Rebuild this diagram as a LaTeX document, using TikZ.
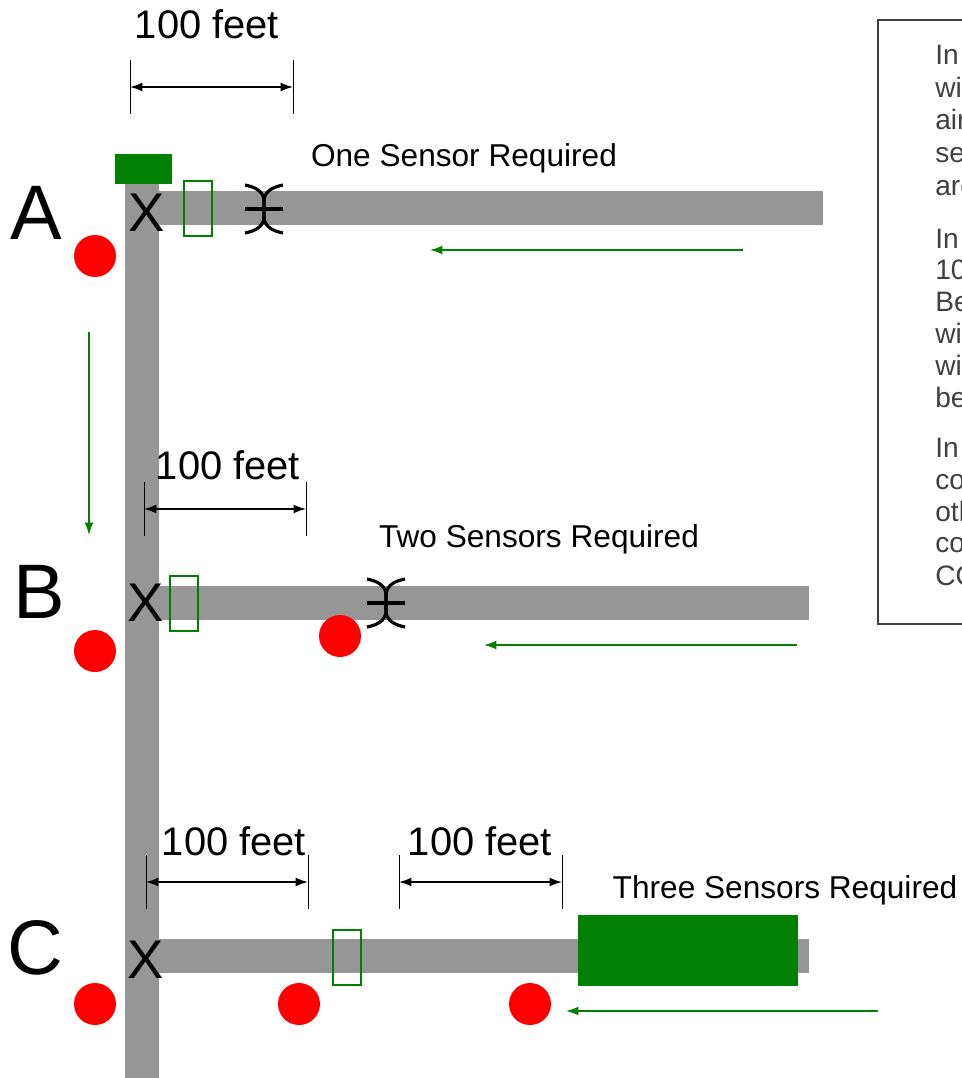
\documentclass[tikz,border=0pt]{standalone}
\usepackage{fontspec}
\setmainfont{Liberation Sans}
\usetikzlibrary{calc,arrows.meta}
\definecolor{pipegray}{HTML}{969696}
\definecolor{ductgreen}{HTML}{008000}
\tikzset{
    sensor/.style={circle,fill=red,inner sep=0pt,minimum size=0.84cm},
    distlabel/.style={inner sep=0pt,font=\fontsize{22.7}{26}\selectfont},
    reqlabel/.style={inner sep=0pt,font=\fontsize{18}{22}\selectfont},
    caselabel/.style={inner sep=0pt,font=\fontsize{44}{50}\selectfont},
    xmark/.style={inner sep=0pt,font=\fontsize{31}{35}\selectfont},
    notetext/.style={inner sep=0pt,anchor=base west,text=black!75,font=\fontsize{16}{19}\selectfont},
    dimline/.style={thick,{Latex[length=7pt,width=5pt]}-{Latex[length=7pt,width=5pt]}},
    flow/.style={draw=ductgreen,thick,-{Latex[length=7pt,width=5pt]}},
    openbox/.style={draw=ductgreen,thick},
    solidbox/.style={draw=ductgreen,fill=ductgreen}
}
\begin{document}
\begin{tikzpicture}[x=0.02cm,y=-0.02cm]
    \useasboundingbox (0,0) rectangle (962,1078);
    \clip (0,0) rectangle (962,1078); % the note box runs off the right edge
    \fill[white] (0,0) rectangle (962,1078);

    % Ducts
    \fill[pipegray] (125,180) rectangle (159,1078);
    \fill[pipegray] (159,191) rectangle (823,225);
    \fill[pipegray] (159,586) rectangle (809,620);
    \fill[pipegray] (159,939) rectangle (809,973);

    % Green boxes
    \draw[solidbox] (115.5,154.5) rectangle (171,183);
    \draw[solidbox] (578,915.5) rectangle (797,985);
    \draw[openbox] (184,181) rectangle (212,236);
    \draw[openbox] (170,576) rectangle (198,631);
    \draw[openbox] (333,930) rectangle (361,985);

    % Sensors
    \node[sensor] (sensorA) at (95,256) {};
    \node[sensor] (sensorBone) at (95,651) {};
    \node[sensor] (sensorBtwo) at (340,636) {};
    \node[sensor] (sensorCone) at (95,1004) {};
    \node[sensor] (sensorCtwo) at (299,1004) {};
    \node[sensor] (sensorCthree) at (530,1004) {};

    % Case letters and the X at each corner
    \node[caselabel] (caseA) at (36,213) {A};
    \node[caselabel] (caseB) at (39,592) {B};
    \node[caselabel] (caseC) at (35,948) {C};
    \node[xmark] (xA) at (147,213) {X};
    \node[xmark] (xB) at (146,603) {X};
    \node[xmark] (xC) at (146,960) {X};

    % Dampers
    \foreach \n/\x/\y in {damperA/264/209,damperB/386/603}{%
      \coordinate (\n) at (\x,\y);
      \draw[line width=2pt] ($(\n)+(-19,0)$) -- ($(\n)+(19,0)$);
      \foreach \s in {-1,1}{% left and right arc
        \draw[line width=1.8pt] ($(\n)+(\s*19,-24)$)
            .. controls ($(\n)+(\s*9,-22)$) and ($(\n)+(\s*1,-18)$) .. ($(\n)+(0,-9)$)
            -- ($(\n)+(0,9)$)
            .. controls ($(\n)+(\s*1,18)$) and ($(\n)+(\s*9,22)$) .. ($(\n)+(\s*19,24)$);
      }
    }

    % Distance markers
    \foreach \n/\xa/\xb/\y in {distA/130/293/87,distB/144/306/509,distC/146/308/882,distD/399/562/882}{%
      \coordinate (\n l) at (\xa,\y);
      \coordinate (\n r) at (\xb,\y);
      \draw[dimline] (\n l) -- (\n r);
      \draw ($(\n l)+(0,-27)$) -- ($(\n l)+(0,27)$);
      \draw ($(\n r)+(0,-27)$) -- ($(\n r)+(0,27)$);
    }
    \node[distlabel] (feetA) at (207,24) {100 feet};
    \node[distlabel] (feetB) at (228,465) {100 feet};
    \node[distlabel] (feetC) at (234,841) {100 feet};
    \node[distlabel] (feetD) at (480,841) {100 feet};

    \node[reqlabel] (reqA) at (464,158) {One Sensor Required};
    \node[reqlabel] (reqB) at (539,539) {Two Sensors Required};
    \node[reqlabel] (reqC) at (785,890) {Three Sensors Required};

    % Flow arrows
    \foreach \n/\xa/\ya/\xb/\yb in {flowA/743/250/430/250,flowV/89/332/89/535,flowB/797/645/484/645,flowC/878/1011/566/1011}{%
      \coordinate (\n s) at (\xa,\ya);
      \coordinate (\n e) at (\xb,\yb);
      \draw[flow] (\n s) -- (\n e);
    }

    % Note box
    \draw[black!75,thick] (878,20) rectangle (1000,624);
    \foreach \y/\t in {65/In,97/wit,130/air,162/se,195/are,248/In,279/10,311/Be,343/wit,375/wit,407/be,457/In,489/co,521/oth,552/co,585/CO}{%
      \node[notetext] at (935,\y) {\t};
    }
\end{tikzpicture}
\end{document}
